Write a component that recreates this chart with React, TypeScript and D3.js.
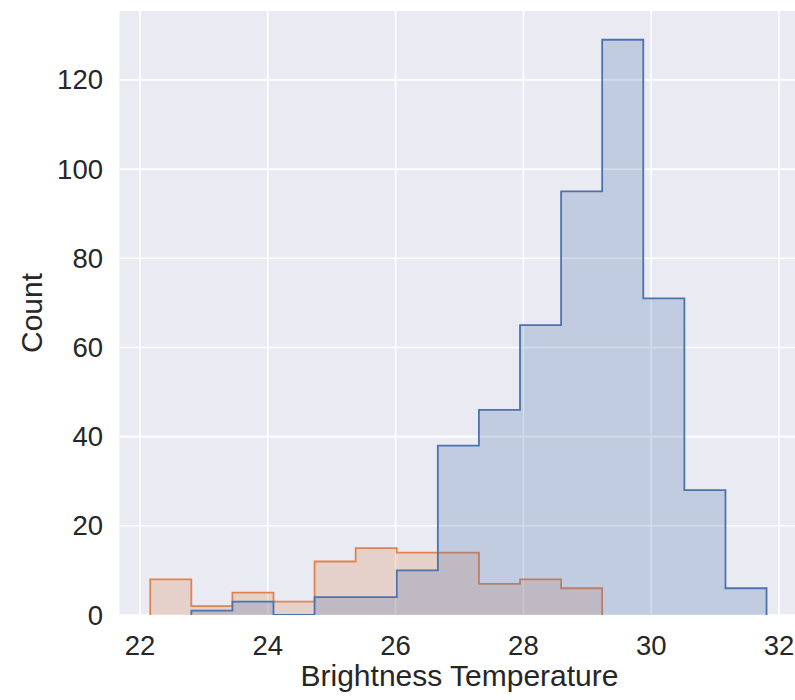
import React from "react";
import * as d3 from "d3";

// Shared histogram bins (Brightness Temperature)
const binStart = 22.16;
const binWidth = 0.643;
const binCount = 15;

// Counts per bin for the two groups
const countsBlue = [0, 1, 3, 0, 4, 4, 10, 38, 46, 65, 95, 129, 71, 28, 6];
const countsOrange = [8, 2, 5, 3, 12, 15, 14, 14, 7, 8, 6, 0, 0, 0, 0];

const xTicks = [22, 24, 26, 28, 30, 32];
const yTicks = [0, 20, 40, 60, 80, 100, 120];

const W = 795;
const H = 700;
const FONT = "'Liberation Sans', Arial, Helvetica, sans-serif";
const TEXT = "#262626";

export default function App() {
  const edges = d3.range(binCount + 1).map((i) => binStart + i * binWidth);
  const lo = edges[0];
  const hi = edges[binCount];
  const pad = (hi - lo) * 0.05;
  const yMax = d3.max([...countsBlue, ...countsOrange]) as number;

  const pxPerUnit = 63.9;
  const x0px = 140 - (22 - (lo - pad)) * pxPerUnit;
  const x1px = 140 + (hi + pad - 22) * pxPerUnit;
  const top = 11;
  const bottom = 615;

  const x = d3.scaleLinear().domain([lo - pad, hi + pad]).range([x0px, x1px]);
  const y = d3.scaleLinear().domain([0, yMax * 1.05]).range([bottom, top]);

  const line = d3
    .line<[number, number]>()
    .x((d) => x(d[0]))
    .y((d) => y(d[1]));

  const stepPoints = (counts: number[]): [number, number][] => {
    let first = counts.findIndex((c) => c > 0);
    let last = counts.length - 1;
    while (last > 0 && counts[last] === 0) last--;
    const pts: [number, number][] = [[edges[first], 0]];
    for (let i = first; i <= last; i++) {
      pts.push([edges[i], counts[i]]);
      pts.push([edges[i + 1], counts[i]]);
    }
    pts.push([edges[last + 1], 0]);
    return pts;
  };

  const series = [
    { counts: countsOrange, color: "#DD8452" },
    { counts: countsBlue, color: "#4C72B0" },
  ];

  return (
    <div style={{ position: "absolute", left: 0, top: 0 }}>
      <svg width={W} height={H} style={{ display: "block", background: "#fff" }}>
        <defs>
          <clipPath id="plot-clip">
            <rect x={x0px} y={top} width={x1px - x0px} height={bottom - top} />
          </clipPath>
        </defs>
        <rect x={x0px} y={top} width={x1px - x0px} height={bottom - top} fill="#EAEAF2" />
        <g stroke="#fff" strokeWidth={1.6}>
          {xTicks.map((t) => (
            <line key={`gx${t}`} x1={x(t)} x2={x(t)} y1={top} y2={bottom} />
          ))}
          {yTicks.map((t) => (
            <line key={`gy${t}`} x1={x0px} x2={x1px} y1={y(t)} y2={y(t)} />
          ))}
        </g>
        <g clipPath="url(#plot-clip)">
          {series.map((s, i) => {
            const pts = stepPoints(s.counts);
            return (
              <g key={i}>
                <path d={line(pts) + "Z"} fill={s.color} fillOpacity={0.25} stroke="none" />
                <path d={line(pts) ?? ""} fill="none" stroke={s.color} strokeWidth={1.8} strokeLinejoin="miter" />
              </g>
            );
          })}
        </g>
        <g fontFamily={FONT} fontSize={27.5} fill={TEXT}>
          {xTicks.map((t) => (
            <text key={`tx${t}`} x={x(t)} y={655} textAnchor="middle">
              {t}
            </text>
          ))}
          {yTicks.map((t) => (
            <text key={`ty${t}`} x={103} y={y(t)} textAnchor="end" dominantBaseline="central">
              {t}
            </text>
          ))}
        </g>
        <text
          x={(140 + 779) / 2}
          y={686}
          textAnchor="middle"
          fontFamily={FONT}
          fontSize={30}
          fill={TEXT}
        >
          Brightness Temperature
        </text>
        <text
          transform={`translate(42, ${(top + bottom) / 2}) rotate(-90)`}
          textAnchor="middle"
          fontFamily={FONT}
          fontSize={30}
          fill={TEXT}
        >
          Count
        </text>
      </svg>
    </div>
  );
}
